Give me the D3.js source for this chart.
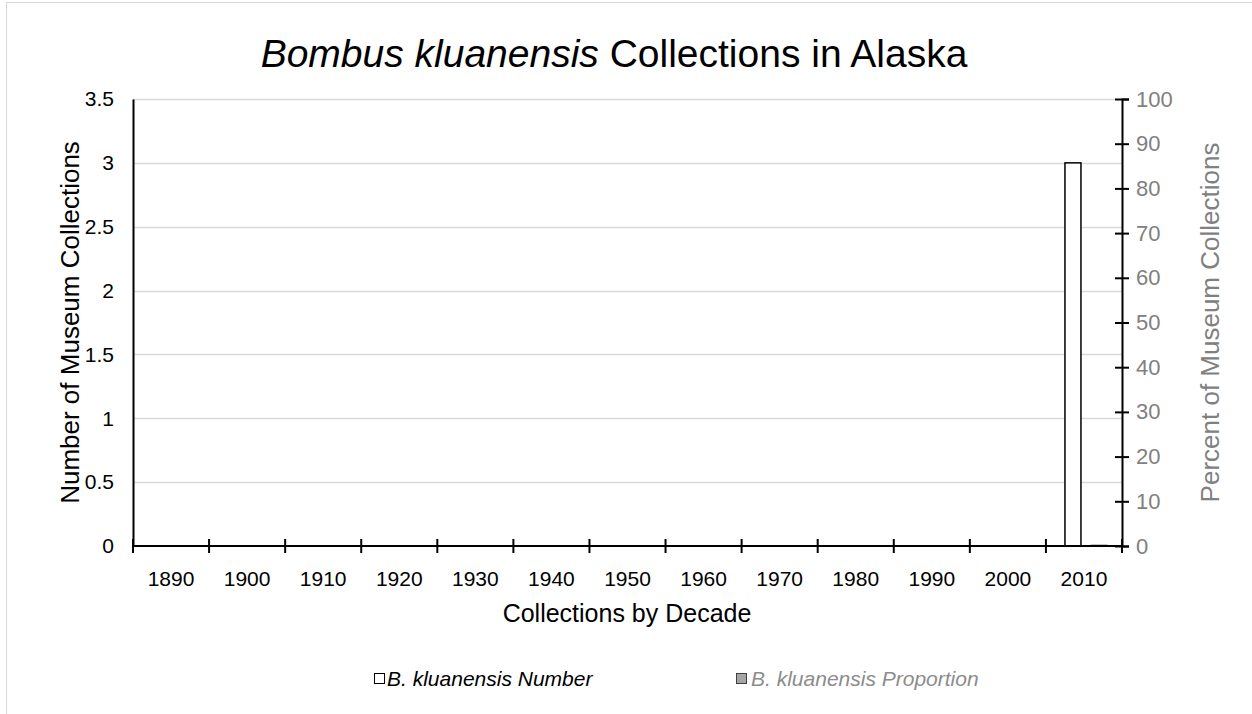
<!DOCTYPE html>
<html><head><meta charset="utf-8">
<script src="https://cdn.jsdelivr.net/npm/d3@7"></script>
<style>
body{margin:0;background:#fff;}
svg{display:block;font-family:"Liberation Sans",Arial,sans-serif;}
</style></head>
<body>
<svg id="chart" width="1252" height="714"></svg>
<script>
const decades = ["1890","1900","1910","1920","1930","1940","1950","1960","1970","1980","1990","2000","2010"];
const numberValues = [null,null,null,null,null,null,null,null,null,null,null,null,3];
const proportionValues = [null,null,null,null,null,null,null,null,null,null,null,null,0];
const leftTicks = [0,0.5,1,1.5,2,2.5,3,3.5];
const rightTicks = [0,10,20,30,40,50,60,70,80,90,100];

const svg = d3.select("#chart");
const W = 1252, H = 714;
const m = {left:133, right:1122, top:99, bottom:546};
const FF = "Liberation Sans, Arial, sans-serif";

// outer border
svg.append("rect").attr("x",6.5).attr("y",2.5).attr("width",W).attr("height",H)
  .attr("fill","none").attr("stroke","#d9d9d9").attr("stroke-width",1);

const x = d3.scaleBand().domain(decades).range([m.left,m.right]).padding(0);
const yL = d3.scaleLinear().domain([0,3.5]).range([m.bottom,m.top]);
const yR = d3.scaleLinear().domain([0,100]).range([m.bottom,m.top]);

// gridlines
svg.append("g").selectAll("line").data(leftTicks.filter(d=>d>0)).join("line")
  .attr("x1",m.left).attr("x2",m.right)
  .attr("y1",d=>Math.round(yL(d))+0.5).attr("y2",d=>Math.round(yL(d))+0.5)
  .attr("stroke","#d9d9d9").attr("stroke-width",1.5);

// bars
const bw = 16;
const data = decades.map((d,i)=>({d, n:numberValues[i], p:proportionValues[i]}));
svg.append("g").selectAll("rect").data(data.filter(d=>d.n!=null)).join("rect")
  .attr("x",d=>x(d.d)+x.bandwidth()/2-bw-3)
  .attr("width",bw)
  .attr("y",d=>yL(d.n)).attr("height",d=>yL(0)-yL(d.n))
  .attr("fill","#fff").attr("stroke","#000").attr("stroke-width",1.5);
svg.append("g").selectAll("rect").data(data.filter(d=>d.p!=null)).join("rect")
  .attr("x",d=>x(d.d)+x.bandwidth()/2+7)
  .attr("width",bw)
  .attr("y",d=>yR(d.p)-1).attr("height",d=>Math.max(1,yR(0)-yR(d.p)))
  .attr("fill","#a5a5a5").attr("stroke","#8c8c8c").attr("stroke-width",1);

// left axis
const gL = svg.append("g").attr("transform",`translate(${m.left},0)`)
  .call(d3.axisLeft(yL).tickValues(leftTicks).tickSize(0).tickPadding(19).tickFormat(d3.format("")));
gL.select(".domain").attr("stroke","#000").attr("stroke-width",2);
gL.selectAll("text").attr("font-size",21).attr("fill","#000").attr("font-family",FF);

// right axis
const gR = svg.append("g").attr("transform",`translate(${m.right},0)`)
  .call(d3.axisRight(yR).tickValues(rightTicks).tickSize(7).tickPadding(7));
gR.select(".domain").attr("stroke","#000").attr("stroke-width",2);
gR.selectAll(".tick line").attr("x1",-7).attr("stroke","#000").attr("stroke-width",2);
gR.selectAll("text").attr("font-size",22).attr("fill","#808080").attr("font-family",FF);

// x axis
const gX = svg.append("g").attr("transform",`translate(0,${m.bottom})`)
  .call(d3.axisBottom(x).tickSize(0).tickPadding(25));
gX.select(".domain").remove();
gX.selectAll("text").attr("font-size",21).attr("fill","#000").attr("font-family",FF);
svg.append("line").attr("x1",m.left).attr("x2",m.right).attr("y1",m.bottom).attr("y2",m.bottom)
  .attr("stroke","#000").attr("stroke-width",2);
const bounds = decades.map(d=>x(d)).concat([m.right]);
svg.append("g").selectAll("line").data(bounds).join("line")
  .attr("x1",d=>d).attr("x2",d=>d).attr("y1",m.bottom-7).attr("y2",m.bottom+7)
  .attr("stroke","#000").attr("stroke-width",2);

// titles
const t = svg.append("text").attr("x",614).attr("y",67).attr("text-anchor","middle")
  .attr("font-size",39).attr("fill","#000");
t.append("tspan").attr("font-style","italic").text("Bombus kluanensis");
t.append("tspan").text(" Collections in Alaska");

svg.append("text").attr("x",627).attr("y",622).attr("text-anchor","middle")
  .attr("font-size",25).attr("fill","#000").text("Collections by Decade");
svg.append("text").attr("transform",`translate(79,${(m.top+m.bottom)/2}) rotate(-90)`)
  .attr("text-anchor","middle").attr("font-size",26).attr("fill","#000").text("Number of Museum Collections");
svg.append("text").attr("transform",`translate(1219,${(m.top+m.bottom)/2}) rotate(-90)`)
  .attr("text-anchor","middle").attr("font-size",26).attr("fill","#808080").text("Percent of Museum Collections");

// legend
const lg = svg.append("g");
lg.append("rect").attr("x",374.5).attr("y",673.5).attr("width",10).attr("height",10)
  .attr("fill","#fff").attr("stroke","#000").attr("stroke-width",1);
lg.append("text").attr("x",387).attr("y",686).attr("font-size",21).attr("font-style","italic")
  .attr("fill","#000").text("B. kluanensis Number");
lg.append("rect").attr("x",736.5).attr("y",673.5).attr("width",10).attr("height",10)
  .attr("fill","#a5a5a5").attr("stroke","#404040").attr("stroke-width",1);
lg.append("text").attr("x",751).attr("y",686).attr("font-size",21).attr("font-style","italic")
  .attr("fill","#8c8c8c").text("B. kluanensis Proportion");
</script>
</body></html>
